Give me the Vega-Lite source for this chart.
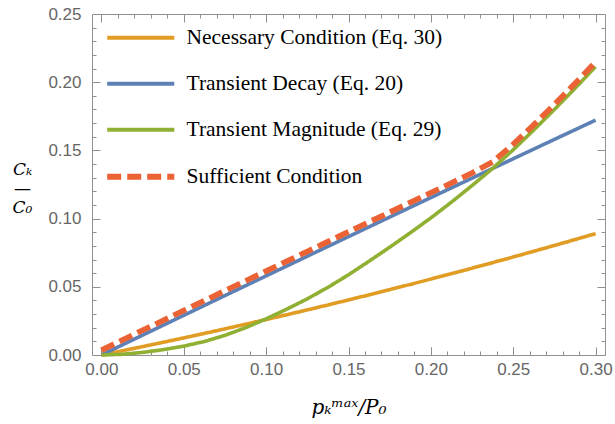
{
  "$schema": "https://vega.github.io/schema/vega-lite/v6.json",
  "width": 513,
  "height": 341,
  "autosize": {"type": "none"},
  "padding": {"left": 92, "top": 14, "right": 10, "bottom": 69},
  "config": {
    "view": {"stroke": "#909090", "strokeWidth": 1},
    "axis": {
      "grid": false,
      "domain": false,
      "labelFont": "Liberation Sans",
      "labelFontSize": 17,
      "labelColor": "#666666",
      "tickColor": "#909090",
      "tickWidth": 1,
      "titleFont": "DejaVu Serif",
      "titleFontStyle": "italic",
      "titleFontWeight": "normal",
      "titleFontSize": 20,
      "titleColor": "#000000",
      "labelOverlap": false,
      "labelFlush": false
    },
    "legend": {
      "orient": "none",
      "legendX": 38,
      "legendY": 13,
      "padding": 0,
      "symbolType": "M-1.5,0H1.5",
      "symbolSize": 2000,
      "symbolStrokeWidth": 4,
      "labelFont": "Liberation Serif",
      "labelFontSize": 21.5,
      "labelColor": "#000000",
      "labelOffset": 35,
      "rowPadding": 23,
      "labelLimit": 400
    }
  },
  "data": {
    "values": [
      {"s": "Necessary Condition (Eq. 30)", "x": 0, "y": 0},
      {"s": "Necessary Condition (Eq. 30)", "x": 0.0125, "y": 0.00305},
      {"s": "Necessary Condition (Eq. 30)", "x": 0.025, "y": 0.00616},
      {"s": "Necessary Condition (Eq. 30)", "x": 0.0375, "y": 0.00932},
      {"s": "Necessary Condition (Eq. 30)", "x": 0.05, "y": 0.01254},
      {"s": "Necessary Condition (Eq. 30)", "x": 0.0625, "y": 0.01582},
      {"s": "Necessary Condition (Eq. 30)", "x": 0.075, "y": 0.01916},
      {"s": "Necessary Condition (Eq. 30)", "x": 0.0875, "y": 0.02255},
      {"s": "Necessary Condition (Eq. 30)", "x": 0.1, "y": 0.026},
      {"s": "Necessary Condition (Eq. 30)", "x": 0.1125, "y": 0.02951},
      {"s": "Necessary Condition (Eq. 30)", "x": 0.125, "y": 0.03307},
      {"s": "Necessary Condition (Eq. 30)", "x": 0.1375, "y": 0.03669},
      {"s": "Necessary Condition (Eq. 30)", "x": 0.15, "y": 0.04037},
      {"s": "Necessary Condition (Eq. 30)", "x": 0.1625, "y": 0.04411},
      {"s": "Necessary Condition (Eq. 30)", "x": 0.175, "y": 0.0479},
      {"s": "Necessary Condition (Eq. 30)", "x": 0.1875, "y": 0.05175},
      {"s": "Necessary Condition (Eq. 30)", "x": 0.2, "y": 0.05566},
      {"s": "Necessary Condition (Eq. 30)", "x": 0.2125, "y": 0.05962},
      {"s": "Necessary Condition (Eq. 30)", "x": 0.225, "y": 0.06365},
      {"s": "Necessary Condition (Eq. 30)", "x": 0.2375, "y": 0.06773},
      {"s": "Necessary Condition (Eq. 30)", "x": 0.25, "y": 0.07186},
      {"s": "Necessary Condition (Eq. 30)", "x": 0.2625, "y": 0.07606},
      {"s": "Necessary Condition (Eq. 30)", "x": 0.275, "y": 0.08031},
      {"s": "Necessary Condition (Eq. 30)", "x": 0.2875, "y": 0.08462},
      {"s": "Necessary Condition (Eq. 30)", "x": 0.3, "y": 0.089},
      {"s": "Transient Decay (Eq. 20)", "x": 0, "y": 0},
      {"s": "Transient Decay (Eq. 20)", "x": 0.0125, "y": 0.00728},
      {"s": "Transient Decay (Eq. 20)", "x": 0.025, "y": 0.01456},
      {"s": "Transient Decay (Eq. 20)", "x": 0.0375, "y": 0.02182},
      {"s": "Transient Decay (Eq. 20)", "x": 0.05, "y": 0.02908},
      {"s": "Transient Decay (Eq. 20)", "x": 0.0625, "y": 0.03632},
      {"s": "Transient Decay (Eq. 20)", "x": 0.075, "y": 0.04356},
      {"s": "Transient Decay (Eq. 20)", "x": 0.0875, "y": 0.05078},
      {"s": "Transient Decay (Eq. 20)", "x": 0.1, "y": 0.058},
      {"s": "Transient Decay (Eq. 20)", "x": 0.1125, "y": 0.06521},
      {"s": "Transient Decay (Eq. 20)", "x": 0.125, "y": 0.07241},
      {"s": "Transient Decay (Eq. 20)", "x": 0.1375, "y": 0.0796},
      {"s": "Transient Decay (Eq. 20)", "x": 0.15, "y": 0.08678},
      {"s": "Transient Decay (Eq. 20)", "x": 0.1625, "y": 0.09395},
      {"s": "Transient Decay (Eq. 20)", "x": 0.175, "y": 0.10111},
      {"s": "Transient Decay (Eq. 20)", "x": 0.1875, "y": 0.10826},
      {"s": "Transient Decay (Eq. 20)", "x": 0.2, "y": 0.1154},
      {"s": "Transient Decay (Eq. 20)", "x": 0.2125, "y": 0.12253},
      {"s": "Transient Decay (Eq. 20)", "x": 0.225, "y": 0.12966},
      {"s": "Transient Decay (Eq. 20)", "x": 0.2375, "y": 0.13677},
      {"s": "Transient Decay (Eq. 20)", "x": 0.25, "y": 0.14388},
      {"s": "Transient Decay (Eq. 20)", "x": 0.2625, "y": 0.15097},
      {"s": "Transient Decay (Eq. 20)", "x": 0.275, "y": 0.15806},
      {"s": "Transient Decay (Eq. 20)", "x": 0.2875, "y": 0.16513},
      {"s": "Transient Decay (Eq. 20)", "x": 0.3, "y": 0.1722},
      {"s": "Transient Magnitude (Eq. 29)", "x": 0, "y": 0},
      {"s": "Transient Magnitude (Eq. 29)", "x": 0.0125, "y": 0.0005},
      {"s": "Transient Magnitude (Eq. 29)", "x": 0.025, "y": 0.0019},
      {"s": "Transient Magnitude (Eq. 29)", "x": 0.0375, "y": 0.0039},
      {"s": "Transient Magnitude (Eq. 29)", "x": 0.05, "y": 0.0065},
      {"s": "Transient Magnitude (Eq. 29)", "x": 0.0625, "y": 0.0099},
      {"s": "Transient Magnitude (Eq. 29)", "x": 0.075, "y": 0.0144},
      {"s": "Transient Magnitude (Eq. 29)", "x": 0.0875, "y": 0.02},
      {"s": "Transient Magnitude (Eq. 29)", "x": 0.1, "y": 0.0265},
      {"s": "Transient Magnitude (Eq. 29)", "x": 0.1125, "y": 0.0336},
      {"s": "Transient Magnitude (Eq. 29)", "x": 0.125, "y": 0.0412},
      {"s": "Transient Magnitude (Eq. 29)", "x": 0.1375, "y": 0.0496},
      {"s": "Transient Magnitude (Eq. 29)", "x": 0.15, "y": 0.0588},
      {"s": "Transient Magnitude (Eq. 29)", "x": 0.1625, "y": 0.0688},
      {"s": "Transient Magnitude (Eq. 29)", "x": 0.175, "y": 0.079},
      {"s": "Transient Magnitude (Eq. 29)", "x": 0.1875, "y": 0.0896},
      {"s": "Transient Magnitude (Eq. 29)", "x": 0.2, "y": 0.1005},
      {"s": "Transient Magnitude (Eq. 29)", "x": 0.2125, "y": 0.1121},
      {"s": "Transient Magnitude (Eq. 29)", "x": 0.225, "y": 0.1242},
      {"s": "Transient Magnitude (Eq. 29)", "x": 0.2375, "y": 0.1368},
      {"s": "Transient Magnitude (Eq. 29)", "x": 0.25, "y": 0.1505},
      {"s": "Transient Magnitude (Eq. 29)", "x": 0.2625, "y": 0.165},
      {"s": "Transient Magnitude (Eq. 29)", "x": 0.275, "y": 0.18},
      {"s": "Transient Magnitude (Eq. 29)", "x": 0.2875, "y": 0.1955},
      {"s": "Transient Magnitude (Eq. 29)", "x": 0.3, "y": 0.2114},
      {"s": "Sufficient Condition", "x": 0, "y": 0.0035},
      {"s": "Sufficient Condition", "x": 0.0125, "y": 0.0108},
      {"s": "Sufficient Condition", "x": 0.025, "y": 0.0181},
      {"s": "Sufficient Condition", "x": 0.0375, "y": 0.0253},
      {"s": "Sufficient Condition", "x": 0.05, "y": 0.0326},
      {"s": "Sufficient Condition", "x": 0.0625, "y": 0.0398},
      {"s": "Sufficient Condition", "x": 0.075, "y": 0.0471},
      {"s": "Sufficient Condition", "x": 0.0875, "y": 0.0543},
      {"s": "Sufficient Condition", "x": 0.1, "y": 0.0615},
      {"s": "Sufficient Condition", "x": 0.1125, "y": 0.0687},
      {"s": "Sufficient Condition", "x": 0.125, "y": 0.0759},
      {"s": "Sufficient Condition", "x": 0.1375, "y": 0.0831},
      {"s": "Sufficient Condition", "x": 0.15, "y": 0.0903},
      {"s": "Sufficient Condition", "x": 0.1625, "y": 0.0975},
      {"s": "Sufficient Condition", "x": 0.175, "y": 0.1046},
      {"s": "Sufficient Condition", "x": 0.1875, "y": 0.1118},
      {"s": "Sufficient Condition", "x": 0.2, "y": 0.1189},
      {"s": "Sufficient Condition", "x": 0.2125, "y": 0.1261},
      {"s": "Sufficient Condition", "x": 0.225, "y": 0.1335},
      {"s": "Sufficient Condition", "x": 0.2375, "y": 0.1415},
      {"s": "Sufficient Condition", "x": 0.25, "y": 0.1545},
      {"s": "Sufficient Condition", "x": 0.2625, "y": 0.1688},
      {"s": "Sufficient Condition", "x": 0.275, "y": 0.1836},
      {"s": "Sufficient Condition", "x": 0.2875, "y": 0.199},
      {"s": "Sufficient Condition", "x": 0.3, "y": 0.2148}
    ]
  },
  "resolve": {"axis": {"x": "independent", "y": "independent"}},
  "layer": [
    {
      "mark": {"type": "line", "strokeOpacity": 0},
      "encoding": {
        "x": {"field": "x", "type": "quantitative", "scale": {"domain": [-0.0057, 0.3057], "nice": false, "zero": false},
              "axis": {"orient": "bottom", "values": [0.05, 0.1, 0.15, 0.2, 0.25], "tickSize": -8, "labels": false, "title": null}},
        "y": {"field": "y", "type": "quantitative", "scale": {"domain": [0, 0.25], "nice": false, "zero": false},
              "axis": {"orient": "left", "values": [0.05, 0.1, 0.15, 0.2], "tickSize": -8, "labels": false, "title": null}}
      }
    },
    {
      "mark": {"type": "line", "strokeOpacity": 0},
      "encoding": {
        "x": {"field": "x", "type": "quantitative",
              "axis": {"orient": "bottom", "values": [0.01, 0.02, 0.03, 0.04, 0.06, 0.07, 0.08, 0.09, 0.11, 0.12, 0.13, 0.14, 0.16, 0.17, 0.18, 0.19, 0.21, 0.22, 0.23, 0.24, 0.26, 0.27, 0.28, 0.29], "tickSize": -4, "labels": false, "title": null}},
        "y": {"field": "y", "type": "quantitative",
              "axis": {"orient": "left", "values": [0.01, 0.02, 0.03, 0.04, 0.06, 0.07, 0.08, 0.09, 0.11, 0.12, 0.13, 0.14, 0.16, 0.17, 0.18, 0.19, 0.21, 0.22, 0.23, 0.24], "tickSize": -4, "labels": false, "title": null}}
      }
    },
    {
      "mark": {"type": "line", "strokeOpacity": 0},
      "encoding": {
        "x": {"field": "x", "type": "quantitative",
              "axis": {"orient": "top", "values": [0, 0.05, 0.1, 0.15, 0.2, 0.25, 0.3], "tickSize": -8, "labels": false, "title": null}},
        "y": {"field": "y", "type": "quantitative",
              "axis": {"orient": "right", "values": [0.05, 0.1, 0.15, 0.2], "tickSize": -8, "labels": false, "title": null}}
      }
    },
    {
      "mark": {"type": "line", "strokeOpacity": 0},
      "encoding": {
        "x": {"field": "x", "type": "quantitative",
              "axis": {"orient": "top", "values": [0.01, 0.02, 0.03, 0.04, 0.06, 0.07, 0.08, 0.09, 0.11, 0.12, 0.13, 0.14, 0.16, 0.17, 0.18, 0.19, 0.21, 0.22, 0.23, 0.24, 0.26, 0.27, 0.28, 0.29], "tickSize": -4, "labels": false, "title": null}},
        "y": {"field": "y", "type": "quantitative",
              "axis": {"orient": "right", "values": [0.01, 0.02, 0.03, 0.04, 0.06, 0.07, 0.08, 0.09, 0.11, 0.12, 0.13, 0.14, 0.16, 0.17, 0.18, 0.19, 0.21, 0.22, 0.23, 0.24], "tickSize": -4, "labels": false, "title": null}}
      }
    },
    {
      "mark": {"type": "line", "strokeCap": "butt"},
      "encoding": {
        "x": {"field": "x", "type": "quantitative",
              "axis": {"orient": "bottom", "values": [0, 0.05, 0.1, 0.15, 0.2, 0.25, 0.3], "format": ".2f", "ticks": true, "tickSize": -8, "labelPadding": 14, "title": "pₖᵐᵃˣ/P₀", "titlePadding": 20}},
        "y": {"field": "y", "type": "quantitative",
              "axis": {"orient": "left", "values": [0, 0.05, 0.1, 0.15, 0.2, 0.25], "format": ".2f", "ticks": false, "labelPadding": 11, "title": ["Cₖ", "—", "C₀"], "titleAngle": 0, "titleAlign": "center", "titleBaseline": "middle", "titleFontSize": 17, "titleLineHeight": 19, "titleX": -70, "titleY": 155}},
        "color": {"field": "s", "type": "nominal", "title": null,
                  "scale": {"domain": ["Necessary Condition (Eq. 30)", "Transient Decay (Eq. 20)", "Transient Magnitude (Eq. 29)", "Sufficient Condition"],
                            "range": ["#E19C24", "#5E81B5", "#8FB032", "#EB6235"]},
                  "legend": {"encode": {"symbols": {"update": {"strokeWidth": {"signal": "datum.value === 'Sufficient Condition' ? 6 : 4"}}}}}},
        "strokeDash": {"field": "s", "type": "nominal", "title": null,
                       "scale": {"domain": ["Necessary Condition (Eq. 30)", "Transient Decay (Eq. 20)", "Transient Magnitude (Eq. 29)", "Sufficient Condition"],
                                 "range": [[1, 0], [1, 0], [1, 0], [14, 6]]}},
        "strokeWidth": {"condition": {"test": "datum.s === 'Sufficient Condition'", "value": 5.6}, "value": 3.6}
      }
    }
  ]
}
